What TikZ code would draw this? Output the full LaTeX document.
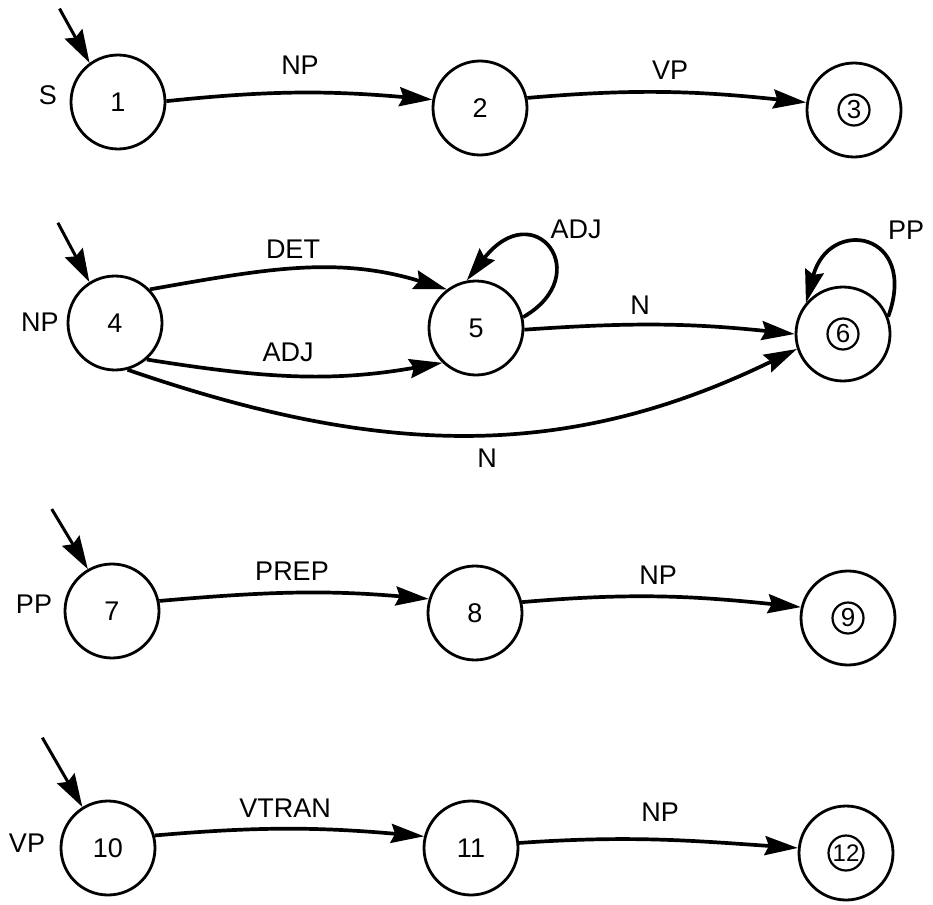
\documentclass[tikz,border=0pt]{standalone}
\usepackage{fontspec}
\setmainfont{Liberation Sans}
\usetikzlibrary{arrows.meta,calc}
\begin{document}
\begin{tikzpicture}[x=1pt,y=1pt,
  state/.style={circle,draw,line width=2.8pt,minimum size=94pt,inner sep=0pt,font=\fontsize{27}{31}\selectfont},
  fin/.style={circle,draw,line width=2.2pt,minimum size=31pt,inner sep=0pt,font=\fontsize{26}{30}\selectfont},
  edge/.style={line width=3.7pt,-{Stealth[length=33pt,width=19pt,inset=4pt]}},
  initarr/.style={line width=3pt,-{Stealth[length=33pt,width=20pt,inset=4pt]}},
  lbl/.style={font=\fontsize{27}{31}\selectfont,inner sep=0pt}]
\useasboundingbox (0,0) rectangle (933,-904);
% states
\node[state] (n1) at (118,-102) {1};
\node[state] (n2) at (480,-108) {2};
\node[state] (n3) at (854,-110) {};
\node[fin] (f3) at (n3) {3};
\node[state] (n4) at (115,-323) {4};
\node[state] (n5) at (476,-328) {5};
\node[state] (n6) at (843,-334) {};
\node[fin] (f6) at (n6) {6};
\node[state] (n7) at (112,-611) {7};
\node[state] (n8) at (475,-613) {8};
\node[state] (n9) at (848,-618) {};
\node[fin] (f9) at (n9) {9};
\node[state] (n10) at (108,-848) {10};
\node[state] (n11) at (471,-848) {11};
\node[state] (n12) at (846,-853) {};
\node[fin,minimum size=35pt,font=\fontsize{24}{28}\selectfont] (f12) at (n12) {12};
% network names
\node[lbl] (lS) at (48,-95) {S};
\node[lbl] (lNP) at (40,-322) {NP};
\node[lbl] (lPP) at (34,-604) {PP};
\node[lbl] (lVP) at (27,-843) {VP};
% initial arrows
\coordinate (i1) at ($(n1.126)+(119:62)$);
\coordinate (i4) at ($(n4.122)+(118:67)$);
\coordinate (i7) at ($(n7.120)+(121:70)$);
\coordinate (i10) at ($(n10.122)+(120:80)$);
\draw[initarr] (i1) -- (n1.126);
\draw[initarr] (i4) -- (n4.122);
\draw[initarr] (i7) -- (n7.120);
\draw[initarr] (i10) -- (n10.122);
% transitions
\draw[edge] (n1.1) to[out=6,in=175] (n2.170);
\draw[edge] (n2.12) to[out=5,in=174] (n3.171);
\draw[edge] (n4.44) to[out=10,in=163] (n5.127);
\draw[edge] (n4.-49) to[out=-9,in=190] (n5.226);
\draw[edge] (n4.-75) to[out=-19,in=206] (n6.198);
\draw[edge] (n5.-2) to[out=4,in=174] (n6.180);
\draw[edge] (n5.13) .. controls +(30:85) and +(52:110) .. (n5.101);
\draw[edge] (n6.21) .. controls +(70:90) and +(75:90) .. (n6.140);
\draw[edge] (n7.12) to[out=5,in=175] (n8.163);
\draw[edge] (n8.13) to[out=5,in=174] (n9.167);
\draw[edge] (n10.15) to[out=5,in=175] (n11.166);
\draw[edge] (n11.6) to[out=4,in=176] (n12.174);
% transition labels
\node[lbl] (e12) at (300,-65) {NP};
\node[lbl] (e23) at (670,-70) {VP};
\node[lbl] (e45a) at (293,-249) {DET};
\node[lbl] (e45b) at (288,-352) {ADJ};
\node[lbl] (e55) at (576,-229) {ADJ};
\node[lbl] (e56) at (640,-305) {N};
\node[lbl] (e66) at (906,-230) {PP};
\node[lbl] (e46) at (487,-458) {N};
\node[lbl] (e78) at (292,-571) {PREP};
\node[lbl] (e89) at (658,-575) {NP};
\node[lbl] (e1011) at (285,-808) {VTRAN};
\node[lbl] (e1112) at (660,-812) {NP};
\end{tikzpicture}
\end{document}
